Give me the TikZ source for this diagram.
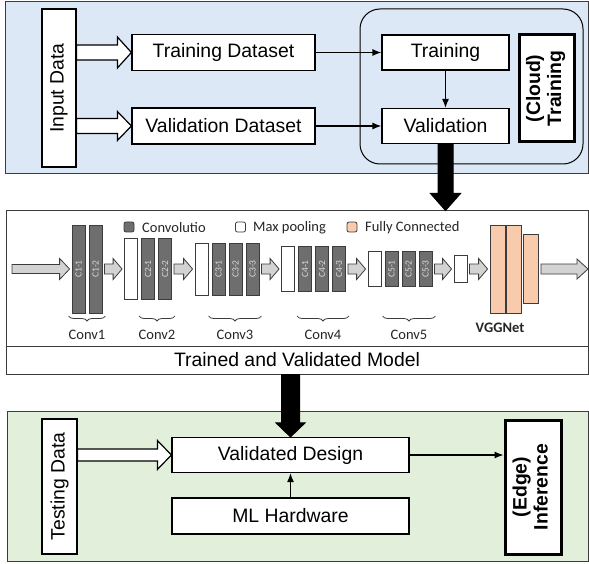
\documentclass[tikz,border=0pt]{standalone}
\usepackage{fontspec}
\setmainfont{Liberation Sans}
\newfontfamily\calibri{Carlito}
\usepackage{graphicx}
\usetikzlibrary{calc, arrows.meta, decorations.pathreplacing}

\definecolor{cloudblue}{HTML}{DCE8F5}
\definecolor{edgegreen}{HTML}{E2EFDA}
\definecolor{convgray}{HTML}{6E6E6E}
\definecolor{linegray}{HTML}{3C3C3C}
\definecolor{textgray}{HTML}{262626}
\definecolor{labelgray}{HTML}{D9D9D9}
\definecolor{fcorange}{HTML}{F8CBAD}
\definecolor{arrowgray}{HTML}{D3D3D3}

% fat arrow to the right: start, tip, half shaft, half head, head length
\newcommand{\rightfat}[6][]{%
  \draw[#1] ([yshift=-#4]#2) -- ([shift={(-#6,-#4)}]#3) -- ([shift={(-#6,-#5)}]#3) -- (#3)
    -- ([shift={(-#6,#5)}]#3) -- ([shift={(-#6,#4)}]#3) -- ([yshift=#4]#2) -- cycle;}
% fat arrow downwards: start, tip, half shaft, half head, head length
\newcommand{\downfat}[6][]{%
  \draw[#1] ([xshift=-#4]#2) -- ([shift={(-#4,#6)}]#3) -- ([shift={(-#5,#6)}]#3) -- (#3)
    -- ([shift={(#5,#6)}]#3) -- ([shift={(#4,#6)}]#3) -- ([xshift=#4]#2) -- cycle;}
% small grey arrow between two layers
\newcommand{\flowfat}[2]{%
  \draw[flow] ([shift={(2pt,-5pt)}]#1.east) -- ([shift={(-11pt,-5pt)}]#2.west) -- ([shift={(-11pt,-10.5pt)}]#2.west)
    -- ([xshift=-2pt]#2.west) -- ([shift={(-11pt,10.5pt)}]#2.west) -- ([shift={(-11pt,5pt)}]#2.west)
    -- ([shift={(2pt,5pt)}]#1.east) -- cycle;}

\begin{document}
\begin{tikzpicture}[x=1pt, y=-1pt,
    panel/.style={draw=linegray, line width=1pt},
    box/.style={draw, fill=white, line width=1.2pt, inner sep=0pt, font=\fontsize{19.4}{22}\selectfont},
    heavybox/.style={box, line width=3pt, font=\fontsize{19.4}{21}\selectfont\bfseries},
    link/.style={line width=1.2pt, -{Latex[length=9pt, width=7pt]}},
    openarrow/.style={draw, fill=white, line width=1.2pt},
    heavyarrow/.style={draw, fill=black, line width=1pt},
    cnnbox/.style={draw=linegray, line width=0.8pt, inner sep=0pt, minimum width=13pt, text=labelgray, font=\calibri\fontsize{9.5}{10}\selectfont},
    conv/.style={cnnbox, fill=convgray},
    pool/.style={cnnbox, fill=white},
    fc/.style={cnnbox, fill=fcorange, minimum width=15pt},
    legbox/.style={draw=linegray, line width=0.8pt, rounded corners=2pt, minimum size=10pt, inner sep=0pt},
    legtext/.style={anchor=west, inner sep=0pt, text=textgray, font=\calibri\fontsize{14.5}{16}\selectfont},
    cnnlbl/.style={inner sep=0pt, text=textgray, font=\calibri\fontsize{14.5}{16}\selectfont},
    brc/.style={draw=linegray, line width=0.8pt, decorate, decoration={brace, mirror, amplitude=5pt}},
    flow/.style={draw=linegray, fill=arrowgray, line width=0.8pt}]

        \useasboundingbox (0,0) rectangle (589,564);

        % cloud panel
        \draw[panel, fill=cloudblue] (5,2) rectangle (588,174);
        % rounded training region
        \draw[line width=1pt, rounded corners=20pt] (360,9) rectangle (583,164);

        % data boxes
        \node[box, minimum width=34pt, minimum height=158pt] (inp) at (59,88) {\rotatebox{90}{Input Data}};
        \node[box, minimum width=183pt, minimum height=36pt] (trd) at (223.5,52.5) {Training Dataset};
        \node[box, minimum width=183pt, minimum height=36pt] (vad) at (223.5,126) {Validation Dataset};

        % training boxes
        \node[box, minimum width=127pt, minimum height=35pt] (trn) at (445.5,52.5) {Training};
        \node[box, minimum width=127pt, minimum height=35pt] (val) at (445.5,126) {Validation};
        \node[heavybox, minimum width=55pt, minimum height=107pt] (cloud) at (546.5,88.5)
            {\rotatebox{90}{\begin{tabular}{@{}c@{}}(Cloud)\\Training\end{tabular}}};

        % hollow arrows
        \coordinate (in1) at (inp.east |- trd.west);
        \coordinate (in2) at (inp.east |- vad.west);
        \rightfat[openarrow]{in1}{trd.west}{7.5pt}{15.5pt}{14pt}
        \rightfat[openarrow]{in2}{vad.west}{7.5pt}{14.5pt}{14pt}

        % arrows
        \draw[link] (trd) -- (trn);
        \draw[link] (vad) -- (val);
        \draw[link] (trn) -- (val);

        % network panel
        \node[panel, fill=white, minimum width=582pt, minimum height=135pt] (cnn) at (297,278.5) {};
        \node[panel, fill=white, minimum width=582pt, minimum height=28pt, font=\fontsize{19.4}{22}\selectfont] (model) at (297,360) {Trained and Validated Model};

        % big arrow down
        \coordinate (t1) at (val.south |- cnn.north);
        \downfat[heavyarrow]{val.south}{t1}{7.5pt}{15pt}{17pt}

        % legend
        \node[legbox, fill=convgray] (lgc) at (129,227) {};
        \node[legtext] (lgct) at (142,228) {Convolutio};
        \node[legbox, fill=white] (lgp) at (240.5,227) {};
        \node[legtext] (lgpt) at (253,228) {Max pooling};
        \node[legbox, fill=fcorange] (lgf) at (352,227) {};
        \node[legtext] (lgft) at (365,228) {Fully Connected};

        % conv1
        \node[conv, minimum height=88pt] (c11) at (78.5,269) {\rotatebox{90}{C1-1}};
        \node[conv, minimum height=88pt] (c12) at (95.5,269) {\rotatebox{90}{C1-2}};
        % conv2
        \node[pool, minimum height=61pt] (p2) at (131,269) {};
        \node[conv, minimum height=61pt] (c21) at (148,269) {\rotatebox{90}{C2-1}};
        \node[conv, minimum height=61pt] (c22) at (165,269) {\rotatebox{90}{C2-2}};
        % conv3
        \node[pool, minimum height=52pt] (p3) at (201.5,269) {};
        \node[conv, minimum height=52pt] (c31) at (218.5,269) {\rotatebox{90}{C3-1}};
        \node[conv, minimum height=52pt] (c32) at (235.5,269) {\rotatebox{90}{C3-2}};
        \node[conv, minimum height=52pt] (c33) at (252.5,269) {\rotatebox{90}{C3-3}};
        % conv4
        \node[pool, minimum height=45pt] (p4) at (288,269) {};
        \node[conv, minimum height=45pt] (c41) at (305,269) {\rotatebox{90}{C4-1}};
        \node[conv, minimum height=45pt] (c42) at (322,269) {\rotatebox{90}{C4-2}};
        \node[conv, minimum height=45pt] (c43) at (339,269) {\rotatebox{90}{C4-3}};
        % conv5
        \node[pool, minimum height=35pt] (p5) at (374.5,269) {};
        \node[conv, minimum height=35pt] (c51) at (391.5,269) {\rotatebox{90}{C5-1}};
        \node[conv, minimum height=35pt] (c52) at (408.5,269) {\rotatebox{90}{C5-2}};
        \node[conv, minimum height=35pt] (c53) at (425.5,269) {\rotatebox{90}{C5-3}};
        % last pooling
        \node[pool, minimum height=27pt] (p6) at (460.5,269) {};
        % fully connected
        \node[fc, minimum height=88pt] (fc1) at (497.5,269) {};
        \node[fc, minimum height=88pt] (fc2) at (514,269) {};
        \node[fc, minimum height=69pt] (fc3) at (531,269) {};

        % grey arrows
        \coordinate (cin) at (12,269);
        \coordinate (cint) at ([xshift=-2pt]c11.west);
        \rightfat[flow]{cin}{cint}{4.5pt}{10.5pt}{10pt}
        \flowfat{c12}{p2}
        \flowfat{c22}{p3}
        \flowfat{c33}{p4}
        \flowfat{c43}{p5}
        \flowfat{c53}{p6}
        \flowfat{p6}{fc1}
        \coordinate (cout) at ([xshift=2pt]fc3.east);
        \coordinate (coutt) at (588,269);
        \rightfat[flow]{cout}{coutt}{5pt}{10pt}{11pt}

        % braces
        \coordinate (brow) at (0,316);
        \draw[brc] ([xshift=-3pt]c11.west |- brow) -- ([xshift=3pt]c12.east |- brow) node[midway, below=14pt, cnnlbl] (l1) {Conv1};
        \draw[brc] ([xshift=-2pt]c21.west |- brow) -- ([xshift=3pt]c22.east |- brow) node[midway, below=14pt, cnnlbl] (l2) {Conv2};
        \draw[brc] ([xshift=-3pt]c31.west |- brow) -- ([xshift=2pt]c33.east |- brow) node[midway, below=14pt, cnnlbl] (l3) {Conv3};
        \draw[brc] ([xshift=-1pt]c41.west |- brow) -- ([xshift=3pt]c43.east |- brow) node[midway, below=14pt, cnnlbl] (l4) {Conv4};
        \draw[brc] ([xshift=-2pt]c51.west |- brow) -- ([xshift=3pt]c53.east |- brow) node[midway, below=14pt, cnnlbl] (l5) {Conv5};
        \node[cnnlbl, font=\calibri\fontsize{14.5}{16}\selectfont\bfseries] (vgg) at (500,328) {VGGNet};

        % edge panel
        \draw[panel, fill=edgegreen] (7,411) rectangle (588,561);
        \node[box, minimum width=35pt, minimum height=135pt] (tst) at (59.5,486.5) {\rotatebox{90}{Testing Data}};
        \node[box, minimum width=237pt, minimum height=35pt] (vd) at (290.5,455) {Validated Design};
        \node[box, minimum width=237pt, minimum height=36pt] (mlh) at (290.5,516) {ML Hardware};
        \node[heavybox, minimum width=56pt, minimum height=134pt] (edge) at (533,487)
            {\rotatebox{90}{\begin{tabular}{@{}c@{}}(Edge)\\Inference\end{tabular}}};

        % hollow arrow
        \coordinate (in3) at (tst.east |- vd.west);
        \rightfat[openarrow]{in3}{vd.west}{6pt}{14.5pt}{14pt}

        % arrows
        \draw[link] (mlh) -- (vd);
        \draw[link] (vd.east) -- (vd.east -| edge.west);

        % big arrow down
        \coordinate (s2) at (vd.north |- model.south);
        \downfat[heavyarrow]{s2}{vd.north}{9pt}{14.5pt}{14pt}

    \end{tikzpicture}
\end{document}
